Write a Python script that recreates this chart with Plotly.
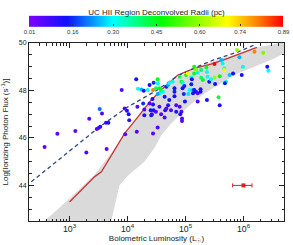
import numpy as np
import plotly.graph_objects as go

# ---- data (log10 L_bol, log N_Lyc, radius in pc) ----
src_logL = [2.57, 2.79, 3.10, 3.29, 3.34, 3.47, 3.50, 3.53, 3.52, 3.56, 3.64, 3.63, 3.67,
            3.90, 3.95, 3.99, 4.02, 4.03, 3.96, 4.15, 4.18, 4.24, 4.28, 4.35, 4.17, 4.16,
            4.27, 4.29, 4.29, 4.38, 4.44, 4.45, 4.52, 4.52, 4.49, 4.55, 4.58, 4.61, 4.55,
            4.52, 4.43, 4.38, 4.44, 4.40, 4.45, 4.49, 4.42, 4.55, 4.65, 4.58, 4.64, 4.52,
            4.44, 4.41, 4.64, 4.67, 4.70, 4.72, 4.78, 4.81, 4.81, 4.72, 4.70, 4.67, 4.75,
            4.84, 4.84, 4.90, 4.93, 4.91, 4.94, 4.94, 4.81, 4.90, 4.93, 4.95, 4.98, 4.95,
            4.97, 4.99, 5.01, 5.04, 5.10, 5.11, 5.10, 5.07, 5.05, 5.13, 5.15, 5.13, 5.18,
            5.21, 5.26, 5.26, 5.21, 5.15, 5.18, 5.15, 5.21, 5.27, 5.27, 5.30, 5.36, 5.37,
            5.38, 5.41, 5.44, 5.37, 5.50, 5.50, 5.51, 5.57, 5.59, 5.62, 5.64, 5.67, 5.70,
            5.68, 5.76, 5.82, 5.99, 5.97, 5.89, 5.93, 6.19, 6.34, 6.41, 6.43, 5.59, 5.67]
src_logN = [45.62, 46.18, 46.29, 45.39, 46.81, 46.38, 46.42, 46.47, 47.22, 47.03, 45.53, 46.64, 46.64,
            48.02, 47.24, 47.15, 47.00, 46.75, 46.15, 48.47, 48.07, 48.04, 47.99, 48.02, 47.31, 46.26,
            47.45, 47.20, 46.96, 48.23, 48.02, 48.33, 48.47, 48.30, 48.09, 48.09, 48.02, 47.95, 47.88,
            47.85, 47.64, 47.45, 47.41, 47.17, 47.17, 47.10, 47.00, 47.31, 47.17, 47.00, 46.86, 46.44,
            46.19, 46.96, 47.74, 48.16, 48.23, 48.33, 48.37, 48.09, 47.95, 47.60, 47.38, 47.24, 47.17,
            47.10, 47.38, 47.31, 47.10, 47.00, 46.82, 46.71, 47.76, 48.58, 48.37, 48.33, 48.19, 48.09,
            47.85, 47.53, 48.65, 48.72, 48.55, 48.47, 48.26, 48.02, 47.85, 48.02, 48.02, 47.88, 47.95,
            47.88, 48.05, 47.95, 47.53, 49.00, 48.89, 48.72, 48.75, 48.86, 48.54, 48.44, 48.97, 48.78,
            48.58, 48.37, 48.47, 47.60, 49.11, 48.55, 48.27, 47.71, 47.38, 49.28, 49.14, 48.93, 48.37,
            48.30, 48.65, 48.72, 49.00, 48.65, 49.70, 49.40, 49.63, 49.59, 49.00, 48.83, 48.60, 48.86]
src_radius = [0.05, 0.05, 0.05, 0.06, 0.06, 0.07, 0.06, 0.12, 0.20, 0.07, 0.06, 0.10, 0.12,
              0.06, 0.06, 0.12, 0.14, 0.10, 0.06, 0.14, 0.30, 0.25, 0.14, 0.31, 0.06, 0.07,
              0.16, 0.07, 0.12, 0.14, 0.80, 0.16, 0.45, 0.30, 0.40, 0.47, 0.45, 0.32, 0.30,
              0.24, 0.14, 0.07, 0.12, 0.14, 0.13, 0.07, 0.06, 0.06, 0.12, 0.06, 0.07, 0.06,
              0.06, 0.13, 0.14, 0.15, 0.25, 0.30, 0.32, 0.14, 0.15, 0.13, 0.12, 0.06, 0.07,
              0.12, 0.06, 0.07, 0.06, 0.13, 0.07, 0.06, 0.14, 0.40, 0.45, 0.30, 0.15, 0.14,
              0.16, 0.13, 0.48, 0.68, 0.31, 0.14, 0.15, 0.30, 0.28, 0.25, 0.14, 0.13, 0.14,
              0.07, 0.13, 0.14, 0.06, 0.47, 0.58, 0.45, 0.32, 0.40, 0.40, 0.45, 0.45, 0.31,
              0.30, 0.14, 0.30, 0.14, 0.89, 0.60, 0.14, 0.42, 0.13, 0.25, 0.32, 0.32, 0.30,
              0.15, 0.26, 0.14, 0.32, 0.14, 0.60, 0.25, 0.80, 0.58, 0.14, 0.30, 0.47, 0.70]

# ZAMS single-star curve (red)
zams_logL = [3.0, 3.43, 3.55, 3.78, 3.95, 4.18, 4.41, 4.64, 4.87, 5.15, 5.44, 5.73, 5.96, 6.23]
zams_logN = [43.3, 44.36, 44.57, 45.49, 46.19, 46.89, 47.6, 48.16, 48.65, 48.93, 49.11, 49.35, 49.56, 49.82]

# cluster curve (dashed)
clus_logL = [2.34, 3.0, 3.52, 4.0, 4.5, 4.87, 5.2, 5.5, 5.9, 6.19]
clus_logN = [44.15, 45.45, 46.47, 47.3, 48.0, 48.62, 49.0, 49.3, 49.62, 49.92]

# grey model cloud envelope
cloud_upper_logL = [2.57, 3.0, 3.43, 3.78, 4.01, 4.29, 4.58, 4.87, 5.16, 5.44, 5.84, 6.19, 6.65, 6.70]
cloud_upper_logN = [42.5, 43.45, 44.45, 45.55, 46.4, 47.25, 47.98, 48.55, 48.92, 49.2, 49.5, 49.8, 50.0, 50.0]
cloud_lower_logL = [6.70, 6.53, 6.19, 5.90, 5.62, 5.33, 5.04, 4.75, 4.58, 4.47, 4.29, 4.0, 3.86, 3.72]
cloud_lower_logN = [49.57, 49.35, 49.0, 48.72, 48.30, 47.88, 47.31, 46.6, 46.1, 45.6, 45.0, 44.4, 44.0, 42.5]

# typical error bar
err_logL = [6.0]
err_logN = [44.0]
err_plus = [4.0e5]
err_minus = [3.5e5]

cbar_ticks = [0.01, 0.16, 0.30, 0.45, 0.60, 0.74, 0.89]

rainbow = [[0.0, "#8000ff"], [0.15, "#1010ff"], [0.33, "#00ffff"], [0.52, "#00ff00"],
           [0.78, "#ffff00"], [0.9, "#ff8000"], [1.0, "#ff0000"]]

L = lambda a: (10 ** np.array(a)).tolist()

fig = go.Figure()
fig.add_trace(go.Scatter(
    x=L(cloud_upper_logL + cloud_lower_logL), y=cloud_upper_logN + cloud_lower_logN,
    mode="lines", fill="toself", fillcolor="#dadada", line=dict(width=0),
    hoverinfo="skip", showlegend=False))
fig.add_trace(go.Scatter(x=L(zams_logL), y=zams_logN, mode="lines",
                         line=dict(color="#cc3333", width=1.3), showlegend=False))
fig.add_trace(go.Scatter(x=L(clus_logL), y=clus_logN, mode="lines",
                         line=dict(color="#2b4a7a", width=1.3, dash="4px,3px"), showlegend=False))
fig.add_trace(go.Scatter(
    x=L(src_logL), y=src_logN, mode="markers",
    marker=dict(size=4, color=src_radius, colorscale=rainbow, cmin=0.01, cmax=0.89,
                line=dict(width=0),
                colorbar=dict(orientation="h", x=0.5, xanchor="center", y=1.028, yanchor="bottom",
                              thickness=11, lenmode="pixels", len=254, xpad=0, ypad=0,
                              tickvals=cbar_ticks, ticktext=[f"{v:.2f}" for v in cbar_ticks],
                              ticks="inside", ticklen=2, tickcolor="#333",
                              tickfont=dict(size=6, color="#333"), outlinewidth=0,
                              title=dict(text="UC HII Region Deconvolved Radii (pc)", side="top",
                                         font=dict(size=8, color="#222")))),
    showlegend=False))
fig.add_trace(go.Scatter(
    x=L(err_logL), y=err_logN, mode="markers",
    marker=dict(symbol="square", size=4, color="#dd2222"),
    error_x=dict(type="data", array=err_plus, arrayminus=err_minus, color="#dd2222",
                 thickness=1, width=2),
    showlegend=False))

axis_common = dict(showline=True, linecolor="#222", linewidth=1, mirror="ticks",
                   ticks="inside", ticklen=5, tickcolor="#222", showgrid=False, zeroline=False,
                   automargin=False, tickfont=dict(size=7, color="#222"))
fig.update_xaxes(type="log", range=[np.log10(200), np.log10(5e6)], dtick=1,
                 exponentformat="power",
                 minor=dict(ticks="inside", ticklen=2.5, dtick="D1", tickcolor="#222"),
                 title=dict(text="Bolometric Luminosity (L<sub>☉</sub>)", font=dict(size=8, color="#222"),
                            standoff=3),
                 **axis_common)
fig.update_yaxes(range=[42.5, 50], tickvals=[44, 46, 48, 50],
                 minor=dict(ticks="inside", ticklen=2.5, dtick=0.5, tickcolor="#222"),
                 title=dict(text="Log[Ionizing Photon Flux (s<sup>-1</sup>)]",
                            font=dict(size=8, color="#222"), standoff=3),
                 **axis_common)
fig.update_layout(width=293, height=245, plot_bgcolor="white", paper_bgcolor="white",
                  margin=dict(l=29, r=9, t=43, b=24, autoexpand=False),
                  font=dict(family="Liberation Sans, Arial, sans-serif", color="#222"))
fig.write_html("out.html", config={"displayModeBar": False},
               post_script="document.body.style.margin='0px';document.body.style.padding='0px';")
